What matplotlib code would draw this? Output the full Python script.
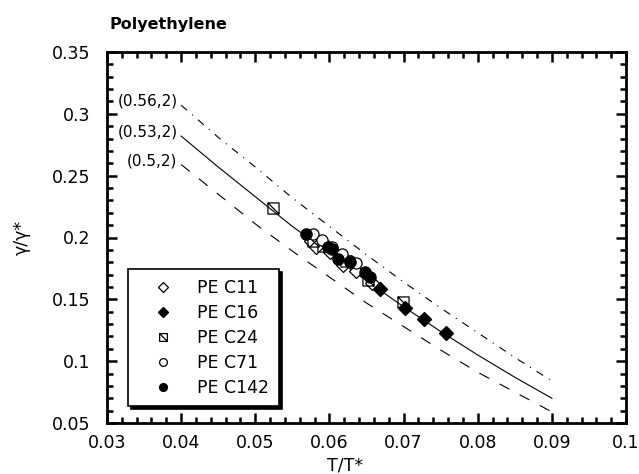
import numpy as np
import matplotlib
matplotlib.use("Agg")
import matplotlib.pyplot as plt
from matplotlib.path import Path
from matplotlib.ticker import MultipleLocator

# theory curves
curve_x = [0.04, 0.045, 0.05, 0.055, 0.06, 0.065, 0.07, 0.075, 0.08, 0.085, 0.09]
curve_056 = [0.307, 0.281, 0.257, 0.232, 0.209, 0.186, 0.164, 0.143, 0.123, 0.103, 0.084]
curve_053 = [0.282, 0.257, 0.233, 0.209, 0.187, 0.165, 0.144, 0.124, 0.105, 0.087, 0.070]
curve_050 = [0.259, 0.235, 0.211, 0.189, 0.168, 0.147, 0.128, 0.109, 0.091, 0.075, 0.059]
curve_labels = ["(0.56,2)", "(0.53,2)", "(0.5,2)"]

# measured data
c11_x = [0.0575, 0.0582, 0.0601, 0.0618, 0.0636, 0.0657]
c11_y = [0.197, 0.192, 0.188, 0.178, 0.173, 0.163]
c16_x = [0.0668, 0.0702, 0.0727, 0.0757]
c16_y = [0.158, 0.143, 0.134, 0.123]
c24_x = [0.0524, 0.0578, 0.0592, 0.0622, 0.0652, 0.0699]
c24_y = [0.224, 0.197, 0.193, 0.181, 0.166, 0.148]
c71_x = [0.0578, 0.0590, 0.0604, 0.0617, 0.0628, 0.0636]
c71_y = [0.203, 0.198, 0.192, 0.187, 0.181, 0.179]
c142_x = [0.0568, 0.0598, 0.0603, 0.0612, 0.0628, 0.0648, 0.0655]
c142_y = [0.203, 0.192, 0.191, 0.183, 0.180, 0.172, 0.168]

plt.rcParams["font.family"] = "DejaVu Sans"

# square with a diagonal, like the C24 symbol
sq_diag = Path([(-1, -1), (1, -1), (1, 1), (-1, 1), (-1, -1), (-1, 1), (1, -1)],
               [Path.MOVETO, Path.LINETO, Path.LINETO, Path.LINETO, Path.CLOSEPOLY,
                Path.MOVETO, Path.LINETO])

fig = plt.figure(figsize=(6.39, 4.74), dpi=100)
ax = fig.add_axes([107 / 639, 51 / 474, 519 / 639, 371 / 474])

ax.plot(curve_x, curve_056, color="black", lw=0.8, dashes=(7, 6, 1, 6))
ax.plot(curve_x, curve_053, color="black", lw=0.8)
ax.plot(curve_x, curve_050, color="black", lw=0.8, dashes=(10, 10.5))
for lab, ys in zip(curve_labels, [curve_056, curve_053, curve_050]):
    ax.text(0.0395, ys[0] + 0.003, lab, ha="right", va="center", fontsize=11)

ms = 8
ax.plot(c11_x, c11_y, ls="none", marker="D", ms=ms * 0.85, mfc="white", mec="black", mew=0.9, label="PE C11")
ax.plot(c16_x, c16_y, ls="none", marker="D", ms=ms * 0.85, mfc="black", mec="black", label="PE C16")
ax.plot(c24_x, c24_y, ls="none", marker=sq_diag, ms=ms, mfc="none", mec="black", mew=0.9, label="PE C24")
ax.plot(c71_x, c71_y, ls="none", marker="o", ms=ms, mfc="white", mec="black", mew=0.9, label="PE C71")
ax.plot(c142_x, c142_y, ls="none", marker="o", ms=ms, mfc="black", mec="black", label="PE C142")

ax.set_xlim(0.03, 0.1)
ax.set_ylim(0.05, 0.35)
ax.xaxis.set_minor_locator(MultipleLocator(0.002))
ax.yaxis.set_minor_locator(MultipleLocator(0.01))
ax.set_xticks(np.arange(0.03, 0.101, 0.01))
ax.set_xticklabels(["0.03", "0.04", "0.05", "0.06", "0.07", "0.08", "0.09", "0.1"])
ax.set_yticks(np.arange(0.05, 0.351, 0.05))
ax.set_yticklabels(["0.05", "0.1", "0.15", "0.2", "0.25", "0.3", "0.35"])

for s in ax.spines.values():
    s.set_linewidth(2)
ax.tick_params(which="both", direction="in", top=True, right=True, labelsize=12.5, width=1.8)
ax.tick_params(which="major", length=7)
ax.tick_params(which="minor", length=4)
ax.tick_params(axis="y", pad=12)
ax.tick_params(axis="x", pad=8)

leg = ax.legend(loc="lower left", bbox_to_anchor=(0.04, 0.045), borderaxespad=0,
                fancybox=False, shadow={"color": "black", "alpha": 1},
                edgecolor="black", fontsize=12.5,
                markerscale=0.7, handletextpad=0.45, labelspacing=0.4,
                borderpad=0.55, handlelength=3.0, framealpha=1)
leg.get_frame().set_linewidth(1.2)

fig.text(110 / 639, 1 - 24 / 474, "Polyethylene", fontsize=11.5, fontweight="bold",
         ha="left", va="center")
fig.text(345 / 639, 1 - 465 / 474, "T/T*", fontsize=12.5, ha="center", va="center")
fig.text(22 / 639, 1 - 237 / 474, "\u03b3/\u03b3*", fontsize=12.5, ha="center", va="center",
         rotation=90)

fig.savefig("out.png", dpi=100)
